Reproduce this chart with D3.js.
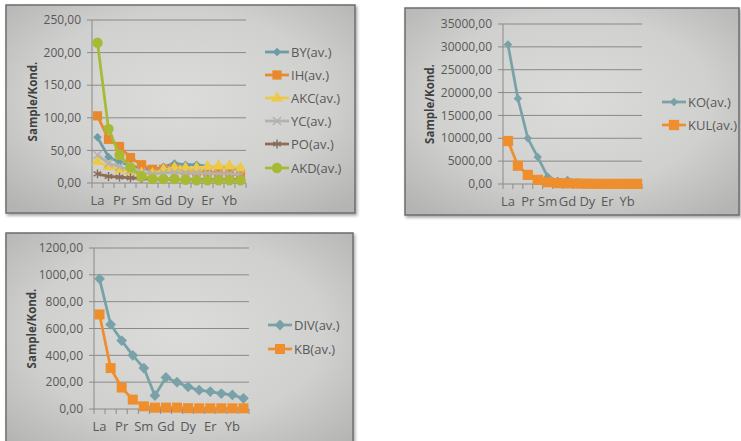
<!DOCTYPE html>
<html>
<head>
<meta charset="utf-8">
<script src="https://cdn.jsdelivr.net/npm/d3@7"></script>
<style>
  html, body { margin: 0; padding: 0; background: #ffffff; }
  svg { display: block; font-family: "Open Sans", Lato, sans-serif; }
</style>
</head>
<body>
<svg id="chart" width="741" height="441"></svg>
<script>
// REE categories (chondrite normalised)
const ree = ["La", "Ce", "Pr", "Nd", "Sm", "Eu", "Gd", "Tb", "Dy", "Ho", "Er", "Tm", "Yb", "Lu"];

// panel 1
const byAv  = [70, 40, 32, 27, 22, 20, 25, 30, 28, 28, 26, 25, 23, 20];
const ihAv  = [103, 67, 56, 39, 28, 21, 21, 22, 19, 18, 17, 15, 14, 12];
const akcAv = [33, 25, 20, 18, 15, 14, 20, 23, 23, 23, 25, 26, 26, 23];
const ycAv  = [43, 30, 25, 20, 16, 14, 15, 16, 15, 15, 15, 14, 14, 13];
const poAv  = [14, 10, 9, 8, 7, 6, 6, 6, 5, 5, 5, 5, 5, 5];
const akdAv = [215, 83, 43, 24, 10, 6, 6, 6, 5, 4, 4, 4, 4, 4];
const yTicks1 = [0, 50, 100, 150, 200, 250];

// panel 2
const koAv  = [30500, 18700, 10000, 5900, 1600, 700, 900, 400, 300, 200, 150, 100, 100, 80];
const kulAv = [9400, 4000, 2000, 900, 400, 200, 150, 100, 60, 40, 30, 30, 30, 30];
const yTicks2 = [0, 5000, 10000, 15000, 20000, 25000, 30000, 35000];

// panel 3
const divAv = [970, 630, 510, 400, 305, 100, 235, 200, 165, 140, 130, 115, 105, 80];
const kbAv  = [705, 305, 160, 70, 20, 10, 10, 10, 6, 5, 5, 5, 5, 5];
const yTicks3 = [0, 200, 400, 600, 800, 1000, 1200];

const svg = d3.select("#chart");
const fmt = d3.formatLocale({decimal: ",", thousands: "", grouping: [3], currency: ["", ""]}).format(".2f");

// excel style diamond: square turned 45 degrees
const diamond = {
  draw(ctx, size) {
    const r = Math.sqrt(size / 2);
    ctx.moveTo(0, -r); ctx.lineTo(r, 0); ctx.lineTo(0, r); ctx.lineTo(-r, 0); ctx.closePath();
  }
};

// card background gradient
const defs = svg.append("defs");
const grad = defs.append("radialGradient").attr("id", "cardBg")
  .attr("cx", "50%").attr("cy", "45%").attr("r", "70%");
grad.append("stop").attr("offset", "0%").attr("stop-color", "#dcdcdb");
grad.append("stop").attr("offset", "60%").attr("stop-color", "#d0d0cf");
grad.append("stop").attr("offset", "100%").attr("stop-color", "#b4b4b3");
const shadow = defs.append("filter").attr("id", "shadow").attr("x", "-5%").attr("y", "-5%").attr("width", "115%").attr("height", "115%");
shadow.append("feDropShadow").attr("dx", 1.5).attr("dy", 2).attr("stdDeviation", 1.5)
  .attr("flood-color", "#000").attr("flood-opacity", 0.35);

function card(x, y, w, h) {
  svg.append("rect")
    .attr("x", x).attr("y", y).attr("width", w).attr("height", h)
    .attr("fill", "url(#cardBg)")
    .attr("stroke", "#6e6e6e").attr("stroke-width", 1.5)
    .attr("filter", "url(#shadow)");
}

card(6, 5, 349, 208);
card(405, 8, 334, 207);
card(6, 233, 347, 220);

function drawPanel(p) {
  const g = svg.append("g");
  const x = d3.scaleBand().domain(ree).range([p.left, p.right]);
  const y = d3.scaleLinear().domain([0, d3.max(p.ticks)]).range([p.bottom, p.top]);
  const cx = d => x(d) + x.bandwidth() / 2;

  // gridlines
  g.selectAll("line.grid").data(p.ticks).enter().append("line")
    .attr("class", "grid")
    .attr("x1", p.left - 5).attr("x2", p.right)
    .attr("y1", d => y(d)).attr("y2", d => y(d))
    .attr("stroke", "#8a8a8a").attr("stroke-width", 1);

  // y axis line
  g.append("line")
    .attr("x1", p.left).attr("x2", p.left)
    .attr("y1", p.top).attr("y2", p.bottom)
    .attr("stroke", "#8a8a8a").attr("stroke-width", 1);

  g.selectAll("text.ytick").data(p.ticks).enter().append("text")
    .attr("class", "ytick")
    .attr("x", p.left - 11).attr("y", d => y(d))
    .attr("dy", "0.35em").attr("text-anchor", "end")
    .attr("font-size", 12).attr("fill", "#595959")
    .text(d => fmt(d));

  // x tick marks at category boundaries
  const edges = ree.map(d => x(d)).concat([p.right]);
  g.selectAll("line.xtick").data(edges).enter().append("line")
    .attr("class", "xtick")
    .attr("x1", d => d).attr("x2", d => d)
    .attr("y1", p.bottom).attr("y2", p.bottom + 5)
    .attr("stroke", "#8a8a8a");

  g.selectAll("text.xlab").data(ree.filter((d, i) => i % 2 === 0)).enter().append("text")
    .attr("class", "xlab")
    .attr("x", d => cx(d)).attr("y", p.bottom + 17)
    .attr("dy", "0.35em").attr("text-anchor", "middle")
    .attr("font-size", 13).attr("fill", "#595959")
    .text(d => d);

  g.append("text")
    .attr("transform", "translate(" + p.titleX + "," + ((p.top + p.bottom) / 2) + ") rotate(-90)")
    .attr("text-anchor", "middle").attr("dy", "0.35em")
    .attr("font-size", 11.5).attr("font-weight", "bold").attr("fill", "#404040")
    .text("Sample/Kond.");

  const line = d3.line().x((d, i) => cx(ree[i])).y(d => y(d));

  p.series.forEach(s => {
    const sg = g.append("g");
    sg.append("path").datum(s.values)
      .attr("d", line).attr("fill", "none")
      .attr("stroke", s.color).attr("stroke-width", 2.75)
      .attr("stroke-linejoin", "round");
    sg.selectAll("path.mark").data(s.values).enter().append("path")
      .attr("class", "mark")
      .attr("transform", (d, i) => "translate(" + cx(ree[i]) + "," + y(d) + ")")
      .attr("d", d3.symbol().type(s.symbol).size(s.size))
      .attr("fill", s.stroked ? "none" : s.color)
      .attr("stroke", s.color).attr("stroke-width", s.stroked ? 1.5 : 0);
  });

  // legend
  p.series.forEach((s, i) => {
    const ly = p.legendY[i];
    const lg = g.append("g");
    lg.append("line")
      .attr("x1", p.legendX).attr("x2", p.legendX + 24)
      .attr("y1", ly).attr("y2", ly)
      .attr("stroke", s.color).attr("stroke-width", 2.75);
    lg.append("path")
      .attr("transform", "translate(" + (p.legendX + 12) + "," + ly + ")")
      .attr("d", d3.symbol().type(s.symbol).size(s.size))
      .attr("fill", s.stroked ? "none" : s.color)
      .attr("stroke", s.color).attr("stroke-width", s.stroked ? 1.5 : 0);
    lg.append("text")
      .attr("x", p.legendX + 26).attr("y", ly).attr("dy", "0.35em")
      .attr("font-size", 13).attr("fill", "#595959")
      .text(s.name);
  });
}

drawPanel({
  left: 92, right: 246, top: 20, bottom: 183, ticks: yTicks1, titleX: 33,
  legendX: 265, legendY: [52, 75, 98, 121, 144, 168],
  series: [
    {name: "BY(av.)",  values: byAv,  color: "#6c9ca6", symbol: diamond, size: 36},
    {name: "IH(av.)",  values: ihAv,  color: "#e8892e", symbol: d3.symbolSquare, size: 85},
    {name: "AKC(av.)", values: akcAv, color: "#ecca47", symbol: d3.symbolTriangle, size: 60},
    {name: "YC(av.)",  values: ycAv,  color: "#b3b2ad", symbol: d3.symbolTimes, size: 45, stroked: true},
    {name: "PO(av.)",  values: poAv,  color: "#8c6e58", symbol: d3.symbolAsterisk, size: 55, stroked: true},
    {name: "AKD(av.)", values: akdAv, color: "#a8b935", symbol: d3.symbolCircle, size: 85}
  ]
});

drawPanel({
  left: 503, right: 642, top: 24, bottom: 184, ticks: yTicks2, titleX: 430,
  legendX: 662, legendY: [102, 125],
  series: [
    {name: "KO(av.)",  values: koAv,  color: "#78a2a8", symbol: diamond, size: 36},
    {name: "KUL(av.)", values: kulAv, color: "#ee8e2c", symbol: d3.symbolSquare, size: 105}
  ]
});

drawPanel({
  left: 94, right: 249, top: 248, bottom: 409, ticks: yTicks3, titleX: 32,
  legendX: 268, legendY: [325, 349],
  series: [
    {name: "DIV(av.)", values: divAv, color: "#78a2a8", symbol: diamond, size: 58},
    {name: "KB(av.)",  values: kbAv,  color: "#ee8e2c", symbol: d3.symbolSquare, size: 100}
  ]
});
</script>
</body>
</html>
